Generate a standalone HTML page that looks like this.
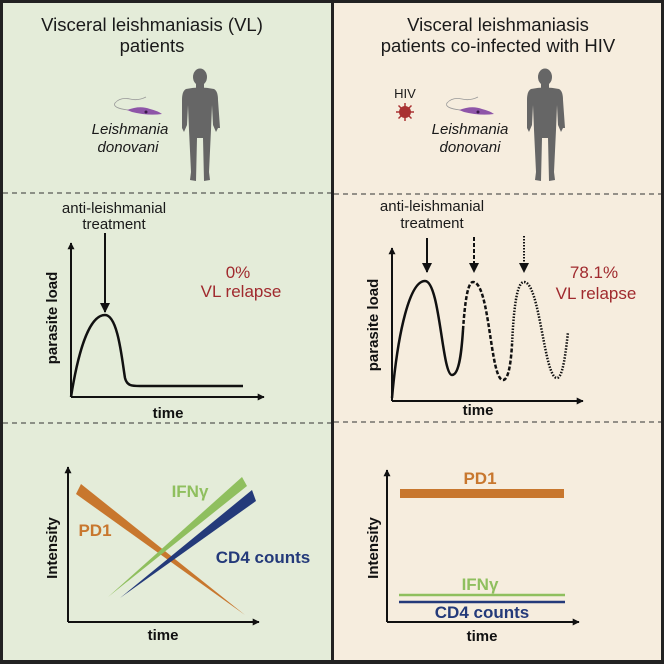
<!DOCTYPE html>
<html><head><meta charset="utf-8"><style>
html,body{margin:0;padding:0;background:#222}
svg{display:block;font-family:"Liberation Sans",sans-serif}
.t{font-size:18.5px;fill:#1a1a1a}
.b{font-weight:bold;fill:#111}
</style></head><body>
<svg width="664" height="664" viewBox="0 0 664 664">
<defs>
<marker id="ah" viewBox="0 0 10 10" refX="9" refY="5" markerWidth="5" markerHeight="5" orient="auto"><path d="M0,0L10,5L0,10z" fill="#111"/></marker>
<marker id="ab" viewBox="0 0 10 10" refX="9" refY="5" markerWidth="3.5" markerHeight="3.5" orient="auto"><path d="M0,0L10,5L0,10z" fill="#111"/></marker>
</defs>
<rect x="0" y="0" width="664" height="664" fill="#222"/>
<rect x="3" y="3" width="328" height="657" fill="#e4ecd9"/>
<rect x="334" y="3" width="327" height="657" fill="#f6edde"/>

<line x1="3" y1="193" x2="331" y2="193" stroke="#333" stroke-dasharray="5,4"/>
<line x1="3" y1="423" x2="331" y2="423" stroke="#333" stroke-dasharray="5,4"/>
<line x1="334" y1="194" x2="661" y2="194" stroke="#333" stroke-dasharray="5,4"/>
<line x1="334" y1="422" x2="661" y2="422" stroke="#333" stroke-dasharray="5,4"/>

<text class="t" x="152" y="31" text-anchor="middle">Visceral leishmaniasis  (VL)</text>
<text class="t" x="152" y="52" text-anchor="middle">patients</text>
<text class="t" x="498" y="31" text-anchor="middle">Visceral leishmaniasis</text>
<text class="t" x="498" y="52" text-anchor="middle">patients co-infected with HIV</text>

<g id="human" fill="#666">
<ellipse cx="200" cy="77" rx="7" ry="8.5"/>
<rect x="196" y="84" width="8" height="5"/>
<path d="M186,89 Q200,86 214,89 Q218,91 218,100 L220,128 L218,128 L216,132 L213,125 L212,105 L211,130 L209,172 L210,180 L204,181 L203,138 L197,138 L196,181 L190,180 L191,172 L189,130 L188,105 L187,125 L184,132 L182,128 L182,100 Q182,91 186,89Z"/>
</g>
<use href="#human" x="345" y="0"/>

<g>
<path d="M128,110 Q112,108 115,103 Q120,97 130,99 Q138,101 146,97" fill="none" stroke="#999" stroke-width="0.8"/>
<path d="M127,110 Q140,105 150,109 Q158,111 162,114 Q148,116 132,112Z" fill="#8e55a8"/>
<circle cx="146" cy="112" r="1.5" fill="#3a1a4a"/>
</g>
<g>
<path d="M460,110 Q444,108 447,103 Q452,97 462,99 Q470,101 478,97" fill="none" stroke="#999" stroke-width="0.8"/>
<path d="M459,110 Q472,105 482,109 Q490,111 494,114 Q480,116 464,112Z" fill="#8e55a8"/>
<circle cx="478" cy="112" r="1.5" fill="#3a1a4a"/>
</g>
<text x="130" y="134" text-anchor="middle" font-style="italic" font-size="15" fill="#1a1a1a">Leishmania</text>
<text x="128" y="152" text-anchor="middle" font-style="italic" font-size="15" fill="#1a1a1a">donovani</text>
<text x="470" y="134" text-anchor="middle" font-style="italic" font-size="15" fill="#1a1a1a">Leishmania</text>
<text x="470" y="152" text-anchor="middle" font-style="italic" font-size="15" fill="#1a1a1a">donovani</text>

<text x="405" y="98" text-anchor="middle" font-size="13" fill="#1a1a1a">HIV</text>
<g stroke="#a33" stroke-width="1.5">
<line x1="396" y1="112" x2="414" y2="112"/><line x1="405" y1="103" x2="405" y2="121"/>
<line x1="398.5" y1="105.5" x2="411.5" y2="118.5"/><line x1="411.5" y1="105.5" x2="398.5" y2="118.5"/>
<circle cx="405" cy="112" r="6" fill="#a83232" stroke="none"/>
</g>

<text x="114" y="213" text-anchor="middle" font-size="15" fill="#1a1a1a">anti-leishmanial</text>
<text x="114" y="229" text-anchor="middle" font-size="15" fill="#1a1a1a">treatment</text>
<line x1="105" y1="233" x2="105" y2="312" stroke="#111" stroke-width="2" marker-end="url(#ah)"/>
<line x1="71" y1="397" x2="71" y2="243" stroke="#111" stroke-width="2" marker-end="url(#ab)"/>
<line x1="71" y1="397" x2="264" y2="397" stroke="#111" stroke-width="2" marker-end="url(#ab)"/>
<path d="M71,397 C80,340 92,315 105,315 C118,315 122,360 125,378 C127,386 132,386 140,386 L243,386" fill="none" stroke="#111" stroke-width="2.5"/>
<text x="0" y="0" transform="translate(57,318) rotate(-90)" text-anchor="middle" font-size="15" class="b">parasite load</text>
<text x="168" y="418" text-anchor="middle" font-size="15" class="b">time</text>
<text x="238" y="278" text-anchor="middle" font-size="17" fill="#a02a2e">0%</text>
<text x="241" y="297" text-anchor="middle" font-size="17" fill="#a02a2e">VL relapse</text>

<text x="432" y="211" text-anchor="middle" font-size="15" fill="#1a1a1a">anti-leishmanial</text>
<text x="432" y="228" text-anchor="middle" font-size="15" fill="#1a1a1a">treatment</text>
<line x1="427" y1="238" x2="427" y2="272" stroke="#111" stroke-width="2" marker-end="url(#ah)"/>
<line x1="474" y1="237" x2="474" y2="272" stroke="#111" stroke-width="2" stroke-dasharray="4,2" marker-end="url(#ah)"/>
<line x1="524" y1="236" x2="524" y2="272" stroke="#111" stroke-width="2" stroke-dasharray="1.5,1.5" marker-end="url(#ah)"/>
<line x1="392" y1="401" x2="392" y2="248" stroke="#111" stroke-width="2" marker-end="url(#ab)"/>
<line x1="392" y1="401" x2="583" y2="401" stroke="#111" stroke-width="2" marker-end="url(#ab)"/>
<path d="M392,398 C398,330 410,281 425,281 C440,281 442,375 452,375 C460,375 462,345 463,330" fill="none" stroke="#111" stroke-width="2.5"/>
<path d="M463,330 C465,300 468,282 473,282 C490,282 490,380 503,380 C509,380 511,360 512,345" fill="none" stroke="#111" stroke-width="2.5" stroke-dasharray="4,2"/>
<path d="M512,345 C514,300 518,282 524,282 C540,282 544,378 557,378 C563,378 566,350 568,332" fill="none" stroke="#111" stroke-width="2.5" stroke-dasharray="1.5,1.5"/>
<text x="0" y="0" transform="translate(378,325) rotate(-90)" text-anchor="middle" font-size="15" class="b">parasite load</text>
<text x="478" y="415" text-anchor="middle" font-size="15" class="b">time</text>
<text x="594" y="278" text-anchor="middle" font-size="17" fill="#a02a2e">78.1%</text>
<text x="596" y="299" text-anchor="middle" font-size="17" fill="#a02a2e">VL relapse</text>

<line x1="68" y1="622" x2="68" y2="467" stroke="#111" stroke-width="2" marker-end="url(#ab)"/>
<line x1="68" y1="622" x2="259" y2="622" stroke="#111" stroke-width="2" marker-end="url(#ab)"/>
<polygon points="76,494 81,484 245,615" fill="#c8772e"/>
<polygon points="108,597 242,477 247,486" fill="#8fbf5e"/>
<polygon points="120,598 252,490 256,501" fill="#243a7a"/>
<text x="95" y="536" text-anchor="middle" font-size="17" font-weight="bold" fill="#c8772e">PD1</text>
<text x="190" y="497" text-anchor="middle" font-size="17" font-weight="bold" fill="#8fbf5e">IFNγ</text>
<text x="263" y="563" text-anchor="middle" font-size="17" font-weight="bold" fill="#243a7a">CD4 counts</text>
<text x="0" y="0" transform="translate(57,548) rotate(-90)" text-anchor="middle" font-size="15" class="b">Intensity</text>
<text x="163" y="640" text-anchor="middle" font-size="15" class="b">time</text>

<line x1="387" y1="622" x2="387" y2="470" stroke="#111" stroke-width="2" marker-end="url(#ab)"/>
<line x1="387" y1="622" x2="579" y2="622" stroke="#111" stroke-width="2" marker-end="url(#ab)"/>
<rect x="400" y="489" width="164" height="9" fill="#c8772e"/>
<line x1="399" y1="595" x2="565" y2="595" stroke="#8fbf5e" stroke-width="2.5"/>
<line x1="399" y1="602" x2="565" y2="602" stroke="#243a7a" stroke-width="2.5"/>
<text x="480" y="484" text-anchor="middle" font-size="17" font-weight="bold" fill="#c8772e">PD1</text>
<text x="480" y="590" text-anchor="middle" font-size="17" font-weight="bold" fill="#8fbf5e">IFNγ</text>
<text x="482" y="618" text-anchor="middle" font-size="17" font-weight="bold" fill="#243a7a">CD4 counts</text>
<text x="0" y="0" transform="translate(378,548) rotate(-90)" text-anchor="middle" font-size="15" class="b">Intensity</text>
<text x="482" y="641" text-anchor="middle" font-size="15" class="b">time</text>
</svg>
</body></html>
